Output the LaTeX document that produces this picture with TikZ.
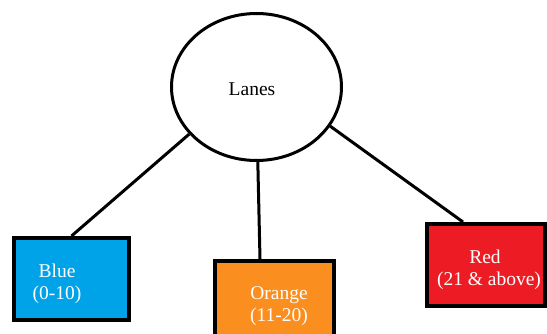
\documentclass[tikz,border=0pt]{standalone}
\usepackage{fontspec}
\setmainfont{Liberation Serif}
\usetikzlibrary{shapes.geometric}
\definecolor{boxblue}{HTML}{00A2E8}
\definecolor{boxorange}{HTML}{FA8E1E}
\definecolor{boxred}{HTML}{ED1C24}
\begin{document}
\begin{tikzpicture}[x=1pt,y=-1pt,
  lanebox/.style={draw=black,line width=4pt,minimum width=115pt,minimum height=82pt,inner sep=0pt},
  boxtext/.style={text=white,align=center,font=\fontsize{19.5}{22}\selectfont,inner sep=0pt},
  link/.style={draw=black,line width=3pt}]
\useasboundingbox[fill=white] (0,0) rectangle (547,334);
\node[ellipse,draw=black,line width=3pt,minimum width=170pt,minimum height=147pt,inner sep=0pt] (lanes) at (256.5,87) {};
\node[font=\fontsize{19.5}{22}\selectfont,inner sep=0pt] (lanestext) at (252,89) {Lanes};
\node[lanebox,fill=boxblue] (blue) at (71.5,279) {};
\node[lanebox,fill=boxorange,minimum width=119pt,minimum height=84pt] (orange) at (274.5,303) {};
\node[lanebox,fill=boxred,minimum width=118pt] (red) at (486,265) {};
\node[boxtext] (bluetext) at (57,284) {Blue\\(0-10)};
\node[boxtext] (orangetext) at (279,306) {Orange\\(11-20)};
\node[boxtext] (redtext) at (489,270) {\hspace*{-8pt}Red\\(21 \& above)};
\draw[link] (lanes.215.4) -- (blue.north);
\draw[link] (lanes.271) -- ([xshift=-14.5pt]orange.north);
\draw[link] (lanes.332.7) -- ([xshift=-23pt]red.north);
\end{tikzpicture}
\end{document}
